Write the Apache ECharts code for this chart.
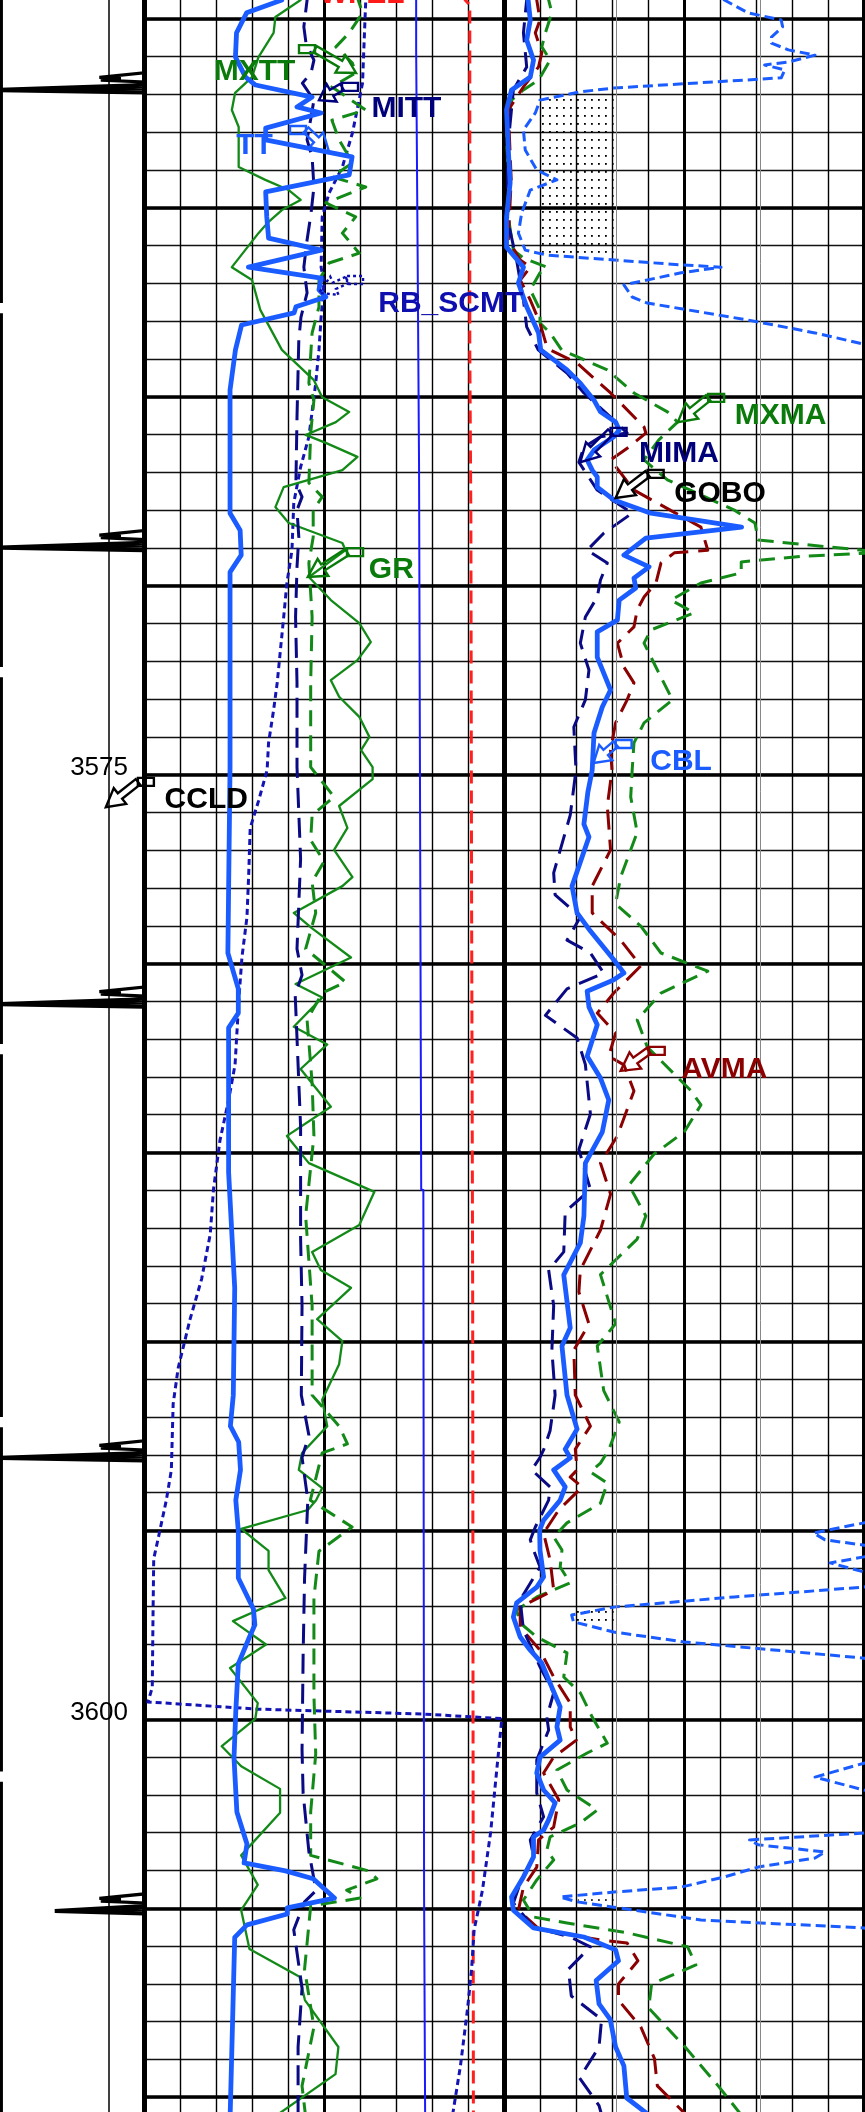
<!DOCTYPE html>
<html><head><meta charset="utf-8">
<script src="https://cdn.jsdelivr.net/npm/echarts@6/dist/echarts.min.js"></script>
<style>html,body{margin:0;padding:0;background:#fff}#c{width:865px;height:2112px}</style>
</head><body><div id="c"></div><script>
// ---------- DATA: [depth (m), reading in grid divisions] ----------
const DEPTH_LABELS = [3575, 3600];

// Track 2
const TT = [[3554.30,3.83],[3554.50,3.83],[3554.84,2.85],[3555.37,2.57],[3556.01,2.54],[3556.54,2.82],[3556.75,3.10],[3557.07,4.67],[3557.33,4.25],[3557.49,4.92],[3557.89,3.38],[3558.20,3.38],[3558.65,5.78],[3559.13,5.70],[3559.58,3.38],[3560.24,3.41],[3560.80,3.46],[3561.12,4.92],[3561.57,2.90],[3561.86,4.92],[3562.17,4.86],[3562.36,5.05],[3562.62,4.22],[3562.78,4.17],[3563.10,2.71],[3563.76,2.54],[3564.82,2.39],[3568.08,2.39],[3568.53,2.67],[3569.19,2.70],[3569.64,2.39],[3574.80,2.39],[3579.72,2.33],[3580.67,2.62],[3581.31,2.62],[3581.70,2.35],[3585.52,2.35],[3588.58,2.52],[3591.42,2.48],[3592.24,2.40],[3592.66,2.63],[3593.40,2.68],[3594.20,2.55],[3595.02,2.62],[3596.26,2.62],[3597.08,3.04],[3597.50,3.08],[3597.82,2.93],[3598.53,2.62],[3599.78,2.55],[3601.02,2.50],[3602.45,2.58],[3603.30,2.86],[3603.80,2.78],[3604.01,3.93],[3604.22,4.70],[3604.73,5.29],[3604.99,3.98],[3605.15,3.98],[3605.44,2.86],[3605.77,2.52],[3607.64,2.47],[3610.60,2.39]];
const GR = [[3554.30,4.45],[3554.50,4.35],[3554.95,3.65],[3555.37,3.60],[3556.01,3.18],[3556.54,3.00],[3556.96,2.53],[3557.41,2.44],[3557.86,2.63],[3558.92,2.63],[3559.26,3.37],[3559.53,4.02],[3559.79,4.35],[3560.06,3.83],[3560.37,3.46],[3560.67,3.18],[3561.57,2.44],[3561.91,3.00],[3562.70,3.23],[3563.76,3.83],[3564.56,4.72],[3565.01,4.95],[3565.40,5.70],[3565.67,5.33],[3566.01,4.49],[3566.22,5.05],[3566.59,5.93],[3566.94,5.51],[3567.39,3.88],[3567.92,3.65],[3568.34,4.02],[3568.87,5.51],[3569.06,5.60],[3569.77,4.58],[3570.38,5.19],[3570.99,5.98],[3571.49,6.30],[3571.97,5.93],[3572.50,5.19],[3572.94,5.42],[3573.47,5.98],[3574.00,6.26],[3574.35,6.03],[3574.80,6.35],[3575.12,6.35],[3575.83,5.42],[3576.41,5.65],[3576.99,5.28],[3577.71,5.79],[3577.95,5.51],[3578.66,4.16],[3579.07,4.67],[3579.84,5.75],[3580.54,4.21],[3580.90,4.95],[3581.67,4.16],[3582.14,5.09],[3582.79,4.35],[3583.79,5.19],[3584.56,3.97],[3585.28,4.58],[3586.04,6.40],[3586.92,5.98],[3587.63,4.67],[3588.11,4.91],[3588.58,5.75],[3589.41,4.81],[3589.99,5.51],[3590.60,5.42],[3591.54,4.95],[3592.24,5.09],[3592.95,4.39],[3593.40,4.30],[3593.88,4.95],[3594.20,4.78],[3594.46,4.55],[3594.96,2.70],[3595.54,3.46],[3596.05,3.46],[3596.79,3.93],[3597.40,2.47],[3598.02,3.39],[3598.64,2.39],[3599.57,3.16],[3599.99,3.09],[3600.71,2.16],[3601.24,2.70],[3601.84,3.78],[3602.47,3.78],[3603.60,2.70],[3604.38,3.16],[3605.05,2.70],[3606.08,2.93],[3606.81,4.32],[3607.43,4.47],[3608.67,5.40],[3609.39,5.32],[3610.60,3.50]];
const MITT = [[3554.30,4.53],[3554.50,4.53],[3555.21,4.44],[3555.64,4.50],[3556.09,4.72],[3556.43,4.64],[3556.70,4.40],[3557.15,4.72],[3557.60,4.64],[3558.20,4.53],[3558.65,4.67],[3559.45,4.72],[3560.14,4.64],[3560.85,4.53],[3561.57,4.44],[3562.25,4.53],[3562.89,4.36],[3563.50,4.30],[3565.54,4.25],[3567.28,4.22],[3567.65,4.39],[3568.00,4.25],[3568.71,4.30],[3569.50,4.25],[3570.83,4.21],[3572.57,4.25],[3574.80,4.25],[3577.23,4.35],[3579.61,4.25],[3580.30,4.39],[3580.83,4.20],[3581.97,4.25],[3584.32,4.35],[3587.29,4.35],[3589.06,4.39],[3591.42,4.37],[3592.48,4.58],[3593.07,4.39],[3594.20,4.55],[3596.26,4.46],[3598.32,4.42],[3600.81,4.39],[3601.95,4.42],[3603.50,4.58],[3604.53,4.78],[3604.83,4.46],[3605.57,4.16],[3607.11,4.39],[3608.67,4.28],[3610.60,4.28]];
const MXTT = [[3554.30,5.95],[3554.50,5.95],[3554.84,6.07],[3555.37,5.70],[3555.74,5.33],[3556.17,5.79],[3556.43,5.88],[3556.80,5.22],[3557.41,6.16],[3557.68,5.22],[3558.20,5.42],[3558.81,5.79],[3559.18,5.22],[3559.45,6.16],[3559.87,5.05],[3560.24,5.88],[3560.67,5.51],[3561.20,5.98],[3561.46,5.14],[3561.91,4.86],[3562.62,4.86],[3563.31,4.67],[3564.64,4.58],[3565.09,4.72],[3565.96,4.63],[3567.28,4.58],[3567.65,4.95],[3568.00,4.70],[3568.71,4.70],[3569.40,4.58],[3570.83,4.67],[3572.57,4.63],[3574.80,4.63],[3575.59,5.28],[3576.07,4.67],[3576.73,4.63],[3577.30,5.00],[3577.84,4.67],[3578.66,4.77],[3579.61,4.49],[3580.49,5.60],[3580.78,4.95],[3581.49,4.53],[3583.16,4.67],[3584.56,4.72],[3586.68,4.49],[3589.06,4.67],[3591.42,4.67],[3592.24,5.42],[3592.71,5.65],[3592.95,4.95],[3594.20,4.62],[3594.91,5.78],[3595.55,4.86],[3596.79,4.72],[3599.35,4.72],[3600.92,4.77],[3602.45,4.63],[3603.60,4.63],[3604.01,6.24],[3604.22,6.47],[3604.52,5.63],[3604.73,6.00],[3604.94,4.63],[3606.61,4.46],[3608.14,4.72],[3609.70,4.39],[3610.60,4.50]];
const RB_SCMT = [[3554.30,6.16],[3554.50,6.16],[3556.70,6.07],[3558.02,5.79],[3558.92,5.51],[3559.61,5.14],[3560.24,4.95],[3561.57,4.92],[3561.99,5.00],[3562.89,4.92],[3563.76,4.86],[3564.64,4.77],[3566.06,4.58],[3566.86,4.35],[3567.81,4.16],[3569.06,4.11],[3569.93,3.97],[3570.83,3.88],[3571.70,3.79],[3572.57,3.70],[3573.29,3.60],[3574.16,3.46],[3574.88,3.42],[3575.70,3.18],[3576.41,2.95],[3577.60,2.91],[3578.77,2.86],[3579.84,2.72],[3581.02,2.63],[3582.67,2.53],[3583.61,2.35],[3584.68,2.11],[3585.98,1.93],[3587.16,1.84],[3588.35,1.60],[3589.41,1.28],[3590.70,0.95],[3591.65,0.81],[3593.40,0.76],[3594.20,0.62],[3595.23,0.39],[3595.75,0.27],[3597.29,0.25],[3599.16,0.23],[3599.54,0.11],[3599.73,3.16],[3599.86,7.78],[3599.98,9.94],[3601.42,9.79],[3602.98,9.63],[3604.53,9.40],[3605.57,9.17],[3606.61,9.10],[3607.64,8.99],[3609.17,8.79],[3610.60,8.55]];
const HV_REF = [[3554.30,7.56],[3555.82,7.56],[3555.83,7.60],[3561.12,7.60],[3561.13,7.64],[3566.81,7.64],[3566.82,7.68],[3585.98,7.70],[3585.99,7.76],[3604.62,7.78],[3604.63,7.81],[3610.60,7.81]];
const WFEL = [[3554.30,8.90],[3554.50,8.92],[3554.63,9.05],[3563.76,9.05],[3568.26,9.08],[3578.32,9.10],[3588.90,9.13],[3610.60,9.15]];

// Track 3
const CBL = [[3554.30,10.67],[3554.50,10.67],[3555.03,10.73],[3555.56,10.63],[3556.09,10.82],[3556.54,10.73],[3556.88,10.21],[3557.41,10.07],[3558.47,10.12],[3559.34,10.17],[3560.24,10.07],[3561.04,10.07],[3561.57,10.54],[3561.99,10.40],[3562.62,10.63],[3563.31,10.96],[3563.76,11.02],[3564.29,11.75],[3564.64,12.12],[3565.09,12.50],[3565.40,12.68],[3565.67,13.10],[3565.88,13.20],[3566.06,13.05],[3566.41,12.50],[3566.67,12.31],[3566.94,12.45],[3567.12,12.59],[3567.39,12.59],[3567.73,13.05],[3568.08,14.08],[3568.45,16.60],[3568.74,13.94],[3569.19,13.33],[3569.50,14.03],[3569.80,13.61],[3570.06,13.66],[3570.38,13.20],[3570.91,13.15],[3571.22,12.59],[3571.89,12.59],[3572.76,12.96],[3573.21,12.73],[3573.90,12.50],[3574.88,12.45],[3575.46,12.33],[3576.31,12.22],[3576.65,12.36],[3577.95,11.89],[3578.66,12.03],[3579.14,12.40],[3579.96,13.10],[3580.25,13.33],[3580.43,13.05],[3580.73,12.31],[3581.15,12.36],[3581.62,12.59],[3582.45,12.31],[3583.03,12.68],[3583.61,12.91],[3584.46,12.73],[3585.28,12.26],[3586.68,12.22],[3587.39,12.12],[3588.24,11.66],[3589.64,11.84],[3590.12,11.61],[3591.42,11.75],[3592.32,12.03],[3592.85,11.70],[3593.08,11.84],[3593.40,11.38],[3593.85,11.70],[3594.20,11.56],[3594.73,11.10],[3594.99,10.99],[3595.52,11.00],[3596.23,11.10],[3596.50,10.91],[3596.92,10.35],[3597.29,10.26],[3597.82,10.45],[3598.17,10.73],[3598.51,11.05],[3599.04,11.28],[3599.67,11.56],[3600.20,11.47],[3600.55,11.56],[3601.00,11.00],[3601.42,10.91],[3601.87,11.10],[3602.21,11.42],[3602.66,11.24],[3602.93,11.10],[3603.11,10.82],[3603.64,10.82],[3604.17,10.54],[3604.70,10.21],[3605.05,10.26],[3605.52,10.82],[3605.76,12.22],[3606.10,13.10],[3606.39,13.18],[3606.91,12.56],[3607.53,12.64],[3607.94,12.95],[3608.67,13.10],[3609.17,13.33],[3610.02,13.41],[3610.60,14.20]];
const AVMA = [[3554.30,10.91],[3554.50,10.91],[3555.03,11.00],[3555.37,10.87],[3555.90,11.05],[3556.27,10.96],[3556.80,10.54],[3557.41,10.12],[3559.26,10.20],[3560.85,10.12],[3561.38,10.45],[3561.57,10.73],[3561.91,10.45],[3562.44,10.73],[3563.05,11.00],[3563.68,11.19],[3563.76,11.28],[3564.11,12.03],[3564.90,12.96],[3565.80,13.89],[3565.96,13.94],[3566.33,13.47],[3566.67,12.96],[3567.47,13.61],[3568.18,14.96],[3568.45,15.47],[3569.06,15.66],[3569.13,14.73],[3569.40,14.36],[3569.93,14.22],[3570.30,13.89],[3570.64,13.70],[3571.09,13.61],[3571.52,13.15],[3572.15,13.33],[3572.57,13.61],[3573.02,13.42],[3573.63,13.10],[3574.35,12.96],[3574.88,13.00],[3575.83,12.87],[3576.99,12.96],[3577.95,12.45],[3578.66,12.45],[3579.38,13.24],[3580.06,13.80],[3580.78,13.05],[3581.31,12.59],[3581.84,13.10],[3582.45,12.91],[3582.68,13.33],[3583.37,13.61],[3584.56,13.15],[3585.28,12.68],[3586.10,12.96],[3587.05,12.68],[3588.11,12.12],[3588.69,12.08],[3589.54,12.36],[3590.23,11.94],[3591.42,11.98],[3592.24,12.40],[3592.85,11.98],[3593.40,12.03],[3593.59,11.84],[3593.85,12.17],[3594.46,11.52],[3595.07,11.10],[3595.78,11.28],[3596.58,11.38],[3597.03,10.45],[3597.56,10.45],[3598.17,11.00],[3598.88,11.38],[3599.57,11.84],[3600.20,11.84],[3600.55,12.01],[3601.00,11.38],[3601.42,11.10],[3602.13,11.52],[3602.85,11.38],[3603.19,10.96],[3603.91,10.91],[3604.44,10.54],[3605.05,10.40],[3605.57,11.00],[3605.84,12.68],[3605.92,13.42],[3606.39,13.72],[3607.00,13.18],[3607.43,13.18],[3608.14,13.80],[3608.98,14.18],[3609.70,14.26],[3610.60,15.20]];
const MIMA = [[3554.30,10.63],[3554.50,10.63],[3555.37,10.54],[3556.27,10.63],[3556.88,10.26],[3558.47,10.10],[3560.32,10.10],[3561.38,10.35],[3562.44,10.54],[3563.15,10.63],[3563.76,10.95],[3564.37,11.75],[3564.90,12.22],[3565.54,12.96],[3565.96,13.42],[3566.06,12.68],[3566.33,12.22],[3566.73,12.08],[3567.47,12.59],[3568.08,13.56],[3568.61,12.77],[3569.06,12.31],[3569.40,12.87],[3569.85,12.68],[3570.30,12.59],[3570.83,12.26],[3571.52,12.12],[3572.23,12.36],[3573.02,12.26],[3573.74,11.94],[3574.88,12.00],[3576.07,11.84],[3577.60,11.38],[3578.18,11.42],[3578.77,12.12],[3579.38,11.75],[3579.72,12.40],[3580.25,12.77],[3580.67,11.75],[3581.37,11.15],[3581.97,12.03],[3582.67,12.26],[3583.98,12.40],[3584.92,12.08],[3585.98,12.40],[3586.57,11.70],[3587.63,11.66],[3588.11,11.24],[3589.05,11.38],[3590.23,11.33],[3591.42,11.42],[3592.36,11.28],[3592.87,11.10],[3593.07,11.00],[3593.40,10.77],[3593.85,11.28],[3594.20,11.24],[3594.91,10.87],[3595.25,10.73],[3595.52,10.82],[3595.97,11.00],[3596.84,10.45],[3597.64,10.54],[3598.61,11.00],[3599.30,11.38],[3599.94,11.19],[3600.28,11.24],[3601.08,10.91],[3601.95,10.91],[3602.58,11.10],[3603.19,10.73],[3603.64,10.82],[3604.33,10.45],[3604.86,10.26],[3605.50,10.82],[3605.76,11.84],[3606.02,12.40],[3606.61,11.79],[3607.32,11.87],[3607.94,12.71],[3608.67,12.64],[3609.49,12.10],[3610.22,12.64],[3610.60,12.75]];
const MXMA = [[3554.30,11.24],[3554.50,11.24],[3554.84,11.33],[3555.37,11.15],[3555.74,11.05],[3556.09,11.28],[3556.62,10.96],[3556.88,10.54],[3557.15,10.21],[3558.02,10.07],[3559.34,10.12],[3560.24,10.12],[3561.12,10.26],[3561.33,10.54],[3561.57,11.19],[3561.72,11.00],[3562.17,10.73],[3562.70,11.00],[3563.05,11.00],[3563.31,11.28],[3563.76,11.60],[3564.29,12.87],[3564.90,13.61],[3565.40,14.54],[3565.67,14.82],[3566.14,14.30],[3566.67,13.89],[3567.20,14.54],[3568.00,16.40],[3568.34,16.97],[3568.79,17.06],[3569.06,19.94],[3569.12,20.40],[3569.22,18.30],[3569.37,16.59],[3569.66,16.59],[3569.93,15.47],[3570.38,14.64],[3570.72,15.28],[3571.17,14.08],[3571.52,13.89],[3572.23,14.26],[3573.02,14.68],[3573.63,13.89],[3574.16,13.61],[3574.88,13.56],[3575.59,13.52],[3576.53,13.70],[3577.71,13.24],[3578.42,13.10],[3579.01,13.80],[3579.72,14.36],[3580.20,15.66],[3580.78,14.36],[3581.49,13.70],[3582.21,13.98],[3583.37,15.20],[3583.74,15.47],[3584.45,15.01],[3585.04,14.17],[3585.86,13.47],[3586.68,13.94],[3587.29,13.70],[3588.23,12.68],[3589.53,13.10],[3590.12,12.59],[3591.30,12.77],[3592.13,13.20],[3592.87,12.91],[3593.22,12.68],[3593.45,12.40],[3593.75,12.87],[3594.28,12.68],[3594.80,11.75],[3595.17,11.38],[3595.52,11.61],[3595.97,11.56],[3596.39,11.84],[3596.76,10.91],[3597.11,10.35],[3597.45,10.45],[3597.82,10.91],[3598.24,11.75],[3598.88,11.66],[3599.30,12.12],[3599.94,12.45],[3600.63,12.87],[3600.89,12.31],[3601.34,11.47],[3601.87,11.75],[3602.40,12.59],[3602.74,12.12],[3603.11,11.28],[3603.46,11.19],[3603.72,11.38],[3604.25,10.91],[3604.78,10.54],[3605.23,10.82],[3605.39,11.75],[3605.65,13.42],[3606.02,15.10],[3606.50,15.33],[3607.00,14.10],[3607.64,14.02],[3608.67,15.03],[3609.70,15.95],[3610.60,16.70]];
const AMPW = [[3554.20,15.80],[3554.50,16.12],[3554.84,16.78],[3555.03,17.70],[3555.21,17.74],[3555.48,17.43],[3555.64,17.43],[3555.82,17.90],[3555.96,18.64],[3556.14,17.90],[3556.22,17.24],[3556.35,17.80],[3556.56,17.70],[3556.83,13.05],[3556.93,12.12],[3557.15,11.00],[3557.49,10.87],[3557.94,10.54],[3558.47,10.59],[3559.00,10.91],[3559.26,11.47],[3559.53,10.73],[3560.14,10.49],[3560.67,10.40],[3561.12,10.59],[3561.25,11.19],[3561.38,13.05],[3561.51,14.92],[3561.57,16.03],[3561.72,14.92],[3562.04,13.33],[3562.36,13.56],[3562.52,13.98],[3562.97,16.78],[3563.31,18.64],[3563.63,20.10],[3564.00,21.50],[3594.60,21.50],[3594.80,20.00],[3595.07,18.60],[3595.25,18.92],[3595.39,20.00],[3595.52,21.00],[3595.70,20.00],[3595.86,19.06],[3596.10,20.00],[3596.31,21.00],[3596.50,20.00],[3596.76,16.40],[3597.03,13.05],[3597.24,11.88],[3597.42,11.93],[3597.69,13.05],[3597.95,15.00],[3598.38,20.00],[3598.70,21.50],[3600.94,21.50],[3601.16,20.00],[3601.53,18.64],[3601.87,20.00],[3602.13,21.50],[3602.80,21.50],[3603.01,20.00],[3603.19,16.82],[3603.32,17.06],[3603.51,18.92],[3603.67,18.64],[3603.91,17.06],[3604.17,16.12],[3604.44,14.92],[3604.57,13.05],[3604.70,11.56],[3604.83,12.03],[3604.97,13.05],[3605.31,15.47],[3605.52,20.00],[3605.84,21.50],[3610.60,21.50]];
// Stippled fill zones: [topDepth, bottomDepth, leftDiv, rightDiv]
const FILLS = [[3557.00,3561.35,11.00,13.05],[3597.08,3597.52,11.95,13.05],[3604.76,3604.96,12.05,13.05]];

// Track 1 (CCL): collar [depth, spike reading]
const CCL_COLLARS = [[3556.88,-10.3],[3568.99,-10.3],[3581.07,-10.3],[3593.08,-10.3],[3605.07,-6.2]];
const EDGE_SEGMENTS = [[3549,3562.52],[3562.79,3572.15],[3572.42,3582.13],[3582.40,3592.00],[3592.27,3601.38],[3601.65,3616]];
const EDGE_VALUE = -9.9;
const TRACK1_DIVIDER = -2.45;

// Curve name labels: [text, division, depth]
const LABELS = [['WFEL',6.06,3554.36],['MXTT',3.07,3556.40],['MITT',7.29,3557.37],['TT',3.07,3558.36],['RB_SCMT',8.52,3562.54],['GR',6.87,3569.57],['CCLD',1.73,3575.66],['MXMA',17.68,3565.49],['MIMA',14.86,3566.52],['GOBO',16.00,3567.56],['CBL',14.92,3574.67],['AVMA',16.12,3582.80]];
// Label pointers: [text, tailDiv, tailDepth, tipDiv, tipDepth]
const ARROWS = [['MXTT',4.75,3555.80,5.89,3556.43],['MITT',5.50,3556.80,4.86,3557.15],['TT',4.50,3557.94,5.14,3558.52],['RB_SCMT',5.64,3561.91,4.86,3562.25],['GR',5.64,3569.11,4.55,3569.77],['CCLD',-0.17,3575.19,-1.06,3575.86],['MXMA',15.67,3565.03,14.83,3565.67],['MIMA',12.96,3565.93,12.12,3566.73],['GOBO',13.99,3567.04,13.10,3567.68],['CBL',13.10,3574.19,12.49,3574.69],['AVMA',14.02,3582.31,13.24,3582.84]];

// ---------- STYLE ----------
const LABEL_COLOR = {WFEL:'#ff1a1a',MXTT:'#0a7a0a',MITT:'#00007a',TT:'#1a5cff',RB_SCMT:'#0f0fb0',GR:'#0a7a0a',CCLD:'#000000',MXMA:'#0a7a0a',MIMA:'#00007a',GOBO:'#000000',CBL:'#1a5cff',AVMA:'#8b0000'};
const BLUE='#1a5cff', NAVY='#0a0a84', GREEN='#138a18', RED='#ff2020', DRED='#8b0000';

const xy = a => a.map(p => [p[1], p[0]]);

function cclData(collars){
  const pts=[[0,3549]];
  collars.forEach(([d,tip])=>{
    pts.push([0,d-0.45],[-3.1,d-0.33],[-1.6,d-0.30],[-3.0,d-0.26],[0,d-0.21],
             [0,d-0.14],[tip,d-0.01],[0,d-0.09],[tip,d],[0,d-0.04],[tip,d+0.01],[0,d+0.03],[tip,d+0.015],[0,d+0.08]);
  });
  pts.push([0,3616]);
  return pts;
}
function edgeData(){
  const out=[];
  EDGE_SEGMENTS.forEach((s,i)=>{ if(i) out.push(['-','-']); out.push([EDGE_VALUE,s[0]],[EDGE_VALUE,s[1]]); });
  return out;
}

const dots=document.createElement('canvas'); dots.width=7; dots.height=8;
(function(){const g=dots.getContext('2d'); g.fillStyle='#000'; g.fillRect(3,3,1.8,1.8);})();

function line(name,data,color,width,dash,z){
  return {name,type:'line',xAxisIndex:0,yAxisIndex:0,data:xy(data),showSymbol:false,symbol:'none',
    clip:true,z:z||3,silent:true,lineStyle:{color,width,type:dash||'solid',cap:'butt',join:'round',opacity:1}};
}

const FONT='Liberation Sans, Arial, sans-serif';
const GRID_TOP=-170.05, GRID_H=65*37.788;

const chart=echarts.init(document.getElementById('c'),null,{renderer:'canvas'});
const hid={show:false};
chart.setOption({
  animation:false,
  backgroundColor:'#fff',
  grid:[
    {left:144,width:720,top:GRID_TOP,height:GRID_H,containLabel:false,outerBoundsMode:'none'},
    {left:0,width:144,top:GRID_TOP,height:GRID_H,containLabel:false,outerBoundsMode:'none'}
  ],
  xAxis:[
    {gridIndex:0,type:'value',min:0,max:20,interval:1,position:'top',axisLine:hid,axisTick:hid,axisLabel:hid,
      splitLine:{show:true,lineStyle:{color:'#000',width:1.4}}},
    {gridIndex:0,type:'value',min:0,max:20,interval:5,position:'bottom',axisLine:hid,axisTick:hid,axisLabel:hid,
      splitLine:{show:true,lineStyle:{color:'#000',width:3}}},
    {gridIndex:0,type:'value',min:0,max:20,interval:10,position:'top',offset:30,axisLine:hid,axisTick:hid,axisLabel:hid,
      splitLine:{show:true,lineStyle:{color:'#000',width:5}}},
    {gridIndex:1,type:'value',min:-10,max:0,axisLine:hid,axisTick:hid,axisLabel:hid,splitLine:hid}
  ],
  yAxis:[
    {gridIndex:0,type:'value',inverse:true,min:3550,max:3615,interval:1,axisLine:hid,axisTick:hid,axisLabel:hid,
      splitLine:{show:true,lineStyle:{color:'#111',width:1.4}}},
    {gridIndex:0,type:'value',inverse:true,min:3550,max:3615,interval:5,position:'right',axisLine:hid,axisTick:hid,axisLabel:hid,
      splitLine:{show:true,lineStyle:{color:'#000',width:3.5}}},
    {gridIndex:1,type:'value',inverse:true,min:3550,max:3615,interval:1,position:'right',axisLine:hid,axisTick:hid,splitLine:hid,
      axisLabel:{show:true,inside:true,margin:16,fontFamily:FONT,fontSize:26,color:'#000',verticalAlign:'bottom',lineHeight:14,
        formatter:v=>DEPTH_LABELS.indexOf(v)>=0?String(v):''}}
  ],
  series:[
    // Track 1
    {name:'EDGE',type:'line',xAxisIndex:3,yAxisIndex:2,data:edgeData(),showSymbol:false,symbol:'none',connectNulls:false,silent:true,
      lineStyle:{color:'#000',width:3},
      markLine:{silent:true,symbol:'none',label:hid,lineStyle:{color:'#000',width:1.5,type:'solid'},data:[{xAxis:TRACK1_DIVIDER}]}},
    {name:'CCL',type:'line',xAxisIndex:3,yAxisIndex:2,data:cclData(CCL_COLLARS),showSymbol:false,symbol:'none',silent:true,clip:true,
      lineStyle:{color:'#000',width:3.2,join:'miter'}},
    // Track 2
    line('WFEL',WFEL,RED,3,[13,7],3),
    line('HV_REF',HV_REF,'#1a1aff',2,'solid',3),
    line('RB_SCMT',RB_SCMT,'#1414b4',3,[6,4],3),
    line('GR',GR,GREEN,2.3,'solid',4),
    line('MXTT',MXTT,GREEN,3,[16,9],4),
    line('MITT',MITT,NAVY,3,[20,10],4),
    line('TT',TT,BLUE,4.8,'solid',5),
    // Track 3
    Object.assign(line('AMPW',AMPW,BLUE,3,[10,5],3),{
      markArea:{silent:true,itemStyle:{color:{image:dots,repeat:'repeat'}},
        data:FILLS.map(f=>[{coord:[f[2],f[0]]},{coord:[f[3],f[1]]}])},
      markLine:{silent:true,symbol:'none',label:hid,lineStyle:{color:'#888',width:1,type:'solid'},data:[{xAxis:13.12},{xAxis:17.12}]}}),
    line('MXMA',MXMA,GREEN,3,[16,9],4),
    line('AVMA',AVMA,DRED,3,[20,10],4),
    line('MIMA',MIMA,NAVY,3,[20,10],4),
    line('CBL',CBL,BLUE,4.8,'solid',5),
    // Label pointers
    {name:'pointers',type:'custom',coordinateSystem:'cartesian2d',xAxisIndex:0,yAxisIndex:0,clip:false,silent:true,z:8,
      encode:{x:[0,2],y:[1,3]},
      data:ARROWS.map(a=>[a[1],a[2],a[3],a[4]]),
      renderItem:(params,api)=>{
        const nm=ARROWS[params.dataIndex][0], col=LABEL_COLOR[nm];
        const t=api.coord([api.value(0),api.value(1)]), p=api.coord([api.value(2),api.value(3)]);
        const dx=p[0]-t[0], dy=p[1]-t[1], L=Math.hypot(dx,dy)||1, ux=dx/L, uy=dy/L, nx=-uy, ny=ux;
        const hl=Math.min(18,L*0.55), hw=10, sw=3.5;
        const hx=p[0]-ux*hl, hy=p[1]-uy*hl;
        const pts=[[t[0]+nx*sw,t[1]+ny*sw],[hx+nx*sw,hy+ny*sw],[hx+nx*hw,hy+ny*hw],[p[0],p[1]],
                   [hx-nx*hw,hy-ny*hw],[hx-nx*sw,hy-ny*sw],[t[0]-nx*sw,t[1]-ny*sw]];
        const dir=t[0]>=p[0]?1:-1;
        const st={stroke:col,fill:'rgba(255,255,255,0)',lineWidth:2.4,opacity:1,lineDash:nm==='RB_SCMT'?[3,3]:null};
        return {type:'group',children:[
          {type:'polygon',shape:{points:pts},style:st},
          {type:'rect',shape:{x:dir>0?t[0]:t[0]-16,y:t[1]-4,width:16,height:8},style:st}
        ]};
      }},
    // Curve name labels
    {name:'labels',type:'scatter',xAxisIndex:0,yAxisIndex:0,symbolSize:1,silent:true,z:9,clip:false,
      itemStyle:{color:'rgba(0,0,0,0)',opacity:1},
      data:LABELS.map(l=>({value:[l[1],l[2]],name:l[0],
        label:{show:true,position:'inside',formatter:l[0],color:LABEL_COLOR[l[0]],opacity:1,fontFamily:FONT,fontWeight:'bold',fontSize:30,
          align:'center',verticalAlign:'middle'}}))}
  ]
});
</script></body></html>
